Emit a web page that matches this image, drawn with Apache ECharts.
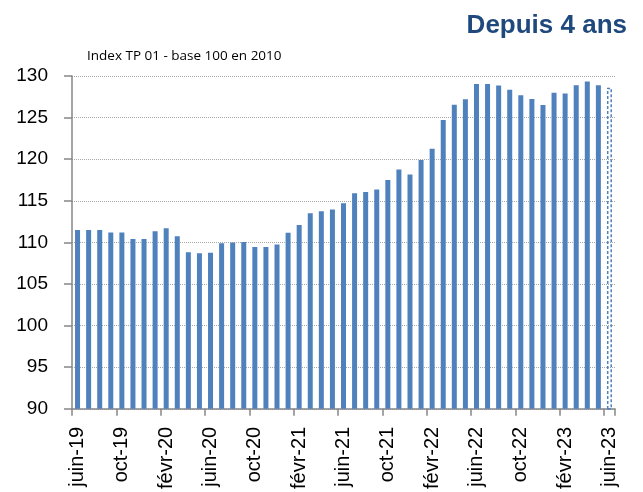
<!DOCTYPE html>
<html>
<head>
<meta charset="utf-8">
<script src="https://cdn.jsdelivr.net/npm/echarts@6/dist/echarts.min.js"></script>
<style>
  html, body { margin: 0; padding: 0; background: #fff; }
  #chart { width: 643px; height: 492px; }
</style>
</head>
<body>
<div id="chart"></div>
<script>
// mois de juin-19 à juin-23
var months = [
  'juin-19', 'juil-19', 'août-19', 'sept-19', 'oct-19', 'nov-19', 'déc-19',
  'janv-20', 'févr-20', 'mars-20', 'avr-20', 'mai-20', 'juin-20', 'juil-20', 'août-20', 'sept-20', 'oct-20', 'nov-20', 'déc-20',
  'janv-21', 'févr-21', 'mars-21', 'avr-21', 'mai-21', 'juin-21', 'juil-21', 'août-21', 'sept-21', 'oct-21', 'nov-21', 'déc-21',
  'janv-22', 'févr-22', 'mars-22', 'avr-22', 'mai-22', 'juin-22', 'juil-22', 'août-22', 'sept-22', 'oct-22', 'nov-22', 'déc-22',
  'janv-23', 'févr-23', 'mars-23', 'avr-23', 'mai-23', 'juin-23'
];
var indexTP01 = [
  111.5, 111.5, 111.5, 111.2, 111.2, 110.4, 110.4,
  111.35, 111.7, 110.75, 108.8, 108.7, 108.75, 109.9, 110.0, 110.05, 109.45, 109.45, 109.75,
  111.15, 112.1, 113.5, 113.75, 113.95, 114.7, 115.9, 116.05, 116.35, 117.5, 118.75, 118.15,
  119.9, 121.25, 124.7, 126.55, 127.2, 129.05, 129.05, 128.85, 128.35, 127.7, 127.25, 126.5,
  128.0, 127.9, 128.9, 129.35, 128.9, 128.6
];
// dernier mois : valeur provisoire (barre en pointillés)
var provisional = ['juin-23'];
var yTicks = { min: 90, max: 130, step: 5 };

var blue = '#4f81bd';
var chart = echarts.init(document.getElementById('chart'), null, { renderer: 'canvas' });

var barData = indexTP01.map(function(v, i) {
  if (provisional.indexOf(months[i]) >= 0) {
    return {
      value: v,
      itemStyle: { color: 'rgba(255,255,255,0)', borderColor: blue, borderType: [3, 2], borderWidth: 1.5 }
    };
  }
  return v;
});

chart.setOption({
  animation: false,
  textStyle: { fontFamily: 'Liberation Sans, Arial, sans-serif' },
  title: {
    text: 'Depuis 4 ans',
    right: 11,
    top: 8,
    textStyle: { color: '#1f497d', fontSize: 26, fontWeight: 'bold', fontFamily: 'Liberation Sans, Arial, sans-serif' }
  },
  graphic: [{
    type: 'text',
    left: 87,
    top: 49,
    style: { text: 'Index TP 01 - base 100 en 2010', fill: '#000', font: '13.5px "Open Sans", sans-serif' }
  }],
  grid: { left: 72, right: 28, top: 76, bottom: 83 },
  xAxis: {
    type: 'category',
    data: months,
    boundaryGap: true,
    axisLine: { lineStyle: { color: '#868686', width: 1.5 } },
    axisTick: { show: true, interval: 3, length: 7, lineStyle: { color: '#868686', width: 1.5 } },
    axisLabel: { interval: 3, rotate: 90, margin: 18, color: '#000', fontSize: 20 }
  },
  yAxis: {
    type: 'value',
    min: yTicks.min,
    max: yTicks.max,
    interval: yTicks.step,
    axisLine: { show: true, lineStyle: { color: '#868686', width: 1.5 } },
    axisTick: { show: true, length: 8, lineStyle: { color: '#868686', width: 1.5 } },
    axisLabel: { color: '#000', fontSize: 19, margin: 24 },
    splitLine: { lineStyle: { color: '#aaaaaa', type: 'dotted', width: 1 } }
  },
  series: [{
    type: 'bar',
    barWidth: 5,
    itemStyle: { color: blue },
    data: barData
  }]
});
</script>
</body>
</html>
